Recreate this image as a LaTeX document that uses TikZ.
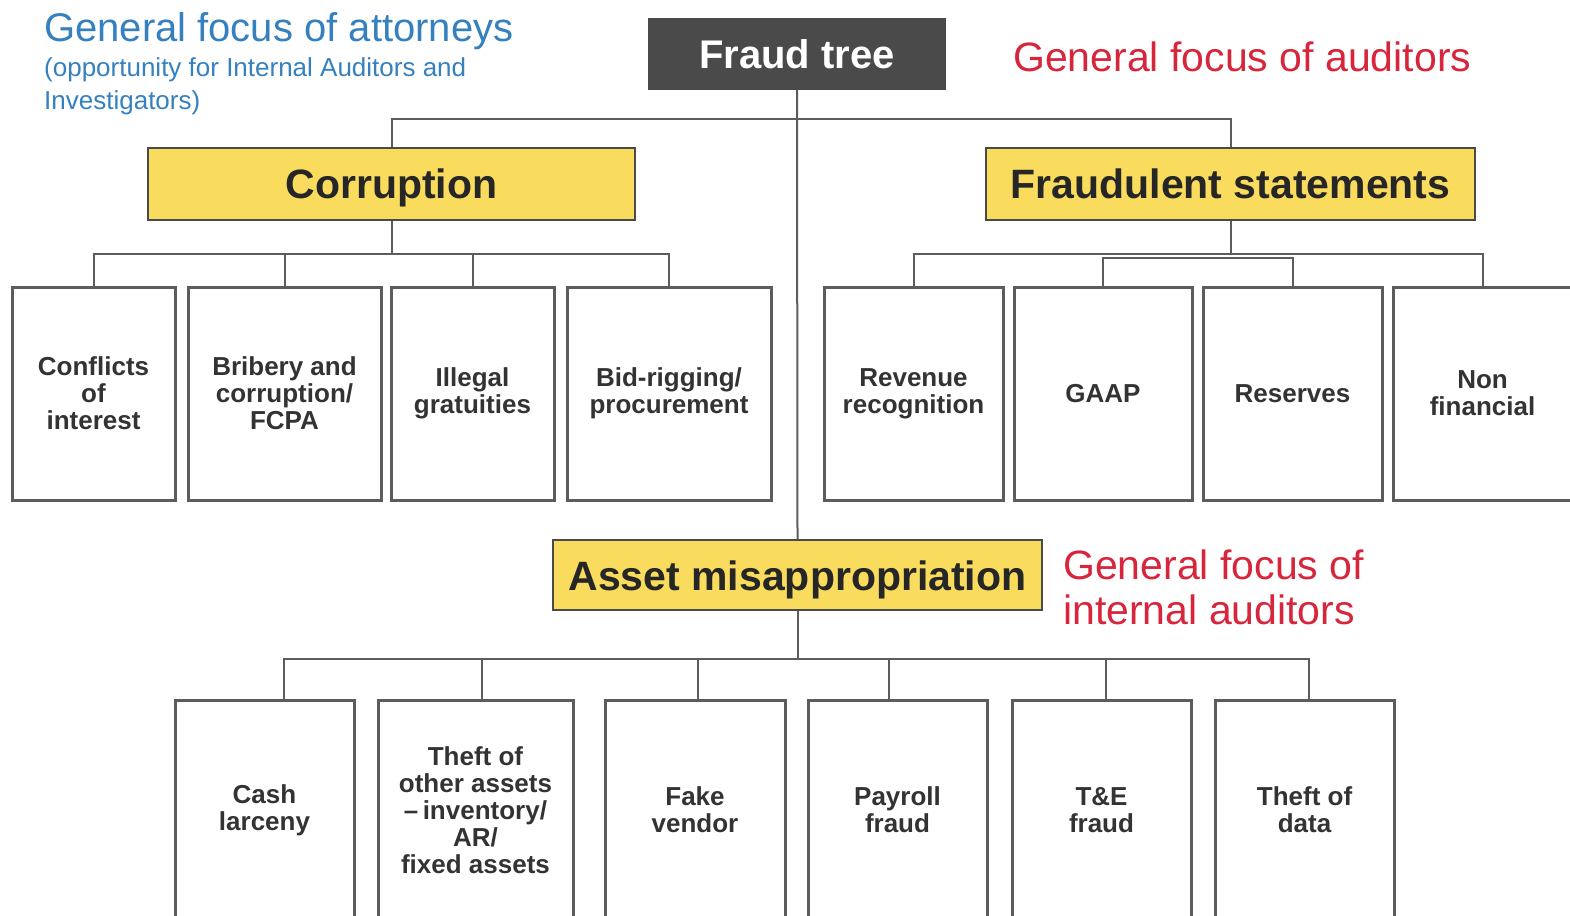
\documentclass[tikz,border=0pt]{standalone}
\usepackage{fontspec}
\setmainfont{Liberation Sans}
\usetikzlibrary{positioning}

\definecolor{treegray}{HTML}{4A4A4A}
\definecolor{boxline}{HTML}{5C5C5C}
\definecolor{hiyellow}{HTML}{F9DC5E}
\definecolor{attblue}{HTML}{3580BE}
\definecolor{audred}{HTML}{D7263C}

\begin{document}
\begin{tikzpicture}[x=1pt, y=-1pt,
				   root/.style={rectangle, fill=treegray, text=white, font=\bfseries\fontsize{40}{40}\selectfont, text height=29pt, text depth=0pt, minimum width=298pt, minimum height=72pt},
				   branch/.style={rectangle, draw=boxline!80!black, line width=2pt, fill=hiyellow, text=black!85, font=\bfseries\fontsize{41}{41}\selectfont, text height=30pt, text depth=0pt, minimum width=487pt, minimum height=72pt},
				   leaf/.style={rectangle, draw=boxline, line width=3pt, fill=white, align=center, text=black!80, inner sep=0pt, font=\bfseries\fontsize{26}{27}\selectfont},
				   upper/.style={leaf, minimum height=213pt},
				   lower/.style={leaf, minimum height=220pt},
				   link/.style={draw=boxline, line width=2pt},
				   note/.style={inner sep=0pt, align=left}]
\useasboundingbox (0,0) rectangle (1570,915);
\clip (0,0) rectangle (1570,915);

\node[note, anchor=base west, text=attblue, font=\fontsize{40}{40}\selectfont] (att) at (44,42) {General focus of attorneys};
\node[note, anchor=north west, text=attblue, font=\fontsize{26}{33}\selectfont] (opp) at (44,57.5) {(opportunity for Internal Auditors and\\Investigators)};
\node[note, anchor=base west, text=audred, font=\fontsize{41}{41}\selectfont] (aud) at (1013,72) {General focus of auditors};
\node[note, anchor=north west, text=audred, font=\fontsize{41}{45}\selectfont] (int) at (1063,550) {General focus of\\internal auditors};

\node[root] (tree) at (797,54) {Fraud tree};
\node[branch] (corr) at (391.5,183.5) {Corruption};
\node[branch, minimum width=489pt] (fstm) at (1230.5,183.5) {Fraudulent statements};
\node[branch, minimum width=489pt, minimum height=70pt] (asset) at (797.5,575) {Asset misappropriation};

\node[upper, minimum width=163pt] (conf) at (93.5,393.5) {Conflicts\\of\\interest};
\node[upper, minimum width=193pt] (brib) at (284.5,393.5) {Bribery and\\corruption/\\FCPA};
\node[upper, minimum width=163pt] (ille) at (472.5,393.5) {Illegal\\gratuities};
\node[upper, minimum width=204pt] (bidr) at (669,393.5) {Bid-rigging/\\procurement};

\node[upper, minimum width=179pt] (reve) at (913.5,393.5) {Revenue\\recognition};
\node[upper, minimum width=178pt] (gaap) at (1103,393.5) {GAAP};
\node[upper, minimum width=179pt] (rese) at (1292.5,393.5) {Reserves};
\node[upper, minimum width=179pt] (nonf) at (1482.5,393.5) {Non\\financial};

\node[lower, minimum width=179pt] (cash) at (264.5,810) {Cash\\larceny};
\node[lower, minimum width=195pt] (othr) at (475.5,810) {Theft of\\other assets\\\textendash\,inventory/\\AR/\\fixed assets};
\node[lower, minimum width=180pt] (fake) at (695,810) {Fake\\vendor};
\node[lower, minimum width=179pt] (payr) at (897.5,810) {Payroll\\fraud};
\node[lower, minimum width=179pt] (tnef) at (1101.5,810) {T\&E\\fraud};
\node[lower, minimum width=179pt] (data) at (1304.5,810) {Theft of\\data};

\draw[link] (tree.south) -- (asset.north);
\draw[link] (corr.north) -- ++(0,-27) -| (fstm.north);

\draw[link] (corr.south) -- ++(0,33) coordinate (cbar);
\foreach \n in {conf,brib,ille,bidr}
	\draw[link] (cbar) -| (\n.north);

\draw[link] (fstm.south) -- ++(0,33) coordinate (fbar);
\foreach \n in {reve,nonf}
	\draw[link] (fbar) -| (\n.north);
\draw[link] (gaap.north) -- ++(0,-28) -| (rese.north);

\draw[link] (asset.south) -- ++(0,48) coordinate (abar);
\foreach \n/\s in {cash/19.5,othr/6.5,fake/3,payr/-8.5,tnef/4.5,data/4.5}
	\draw[link] (abar) -| ([xshift=\s pt]\n.north);
\end{tikzpicture}
\end{document}
